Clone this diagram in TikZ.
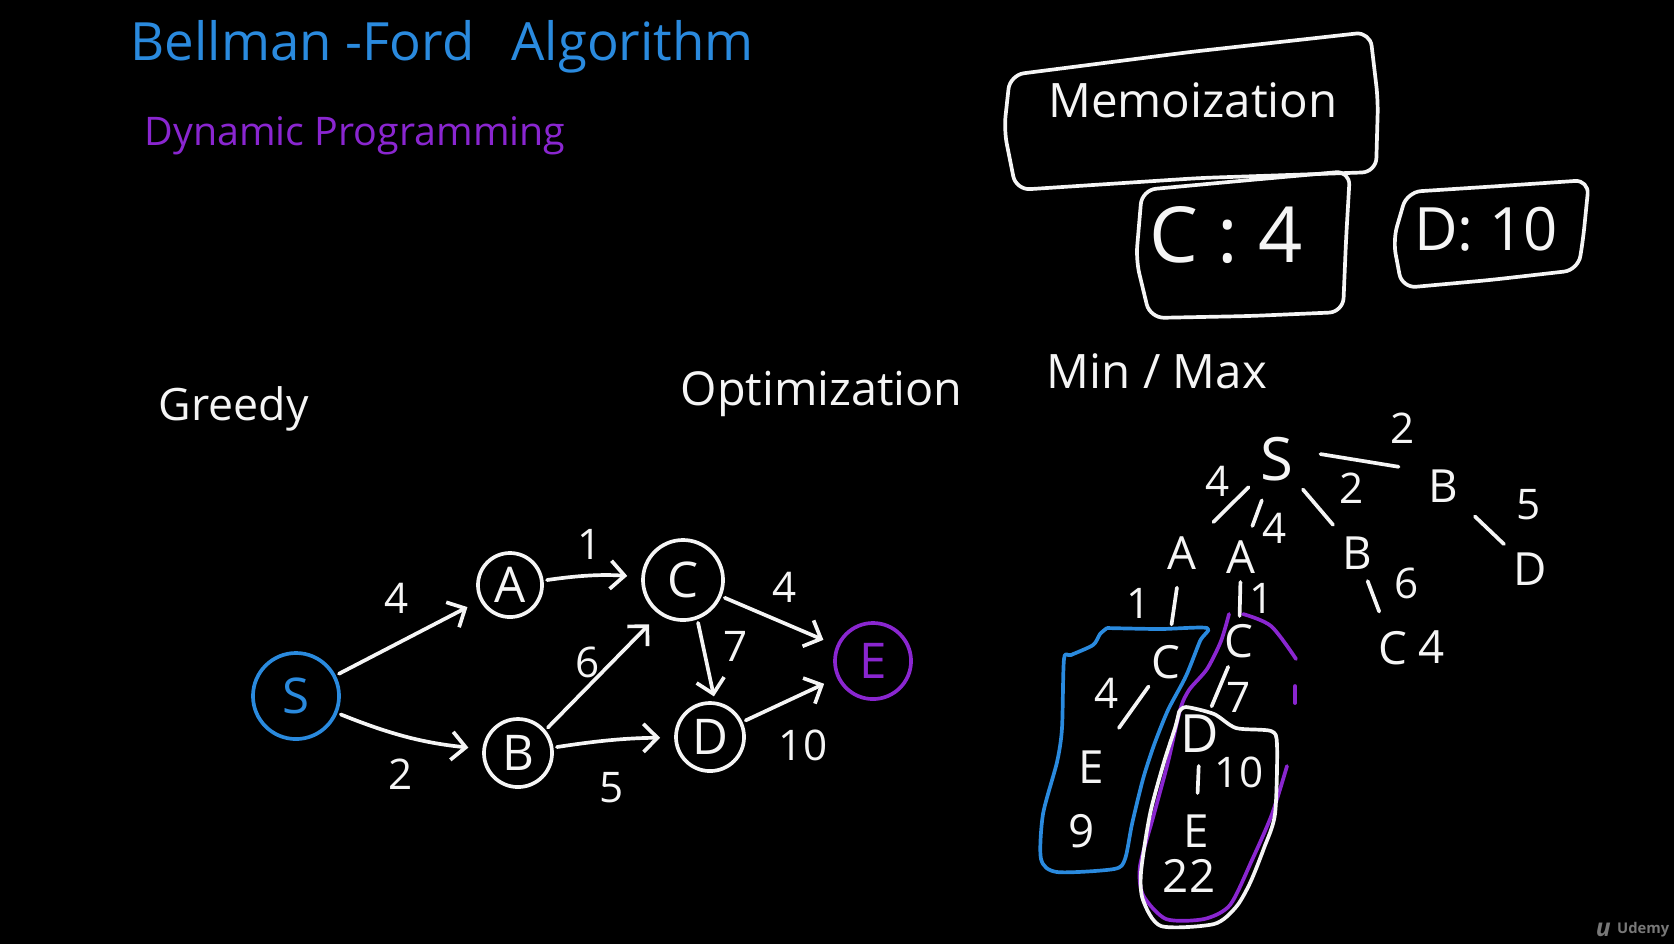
\documentclass[tikz,border=0pt]{standalone}
\usepackage{fontspec}
\setmainfont{Open Sans}
\usetikzlibrary{arrows.meta,calc}
\definecolor{penblue}{RGB}{42,138,222}
\definecolor{penpurple}{RGB}{138,38,208}
\definecolor{penwhite}{RGB}{245,245,245}
\definecolor{logogray}{RGB}{120,120,120}
\begin{document}
\begin{tikzpicture}[x=0.01cm,y=-0.01cm, line cap=round, line join=round,
  ink/.style={draw=penwhite, line width=1.05pt},
  lbl/.style={text=penwhite, inner sep=0pt, font=\fontsize{#1}{#1}\selectfont},
  lbl/.default=12,
  gnode/.style={circle, draw=penwhite, line width=1.05pt, inner sep=0pt, minimum size=#1, text=penwhite, font=\fontsize{14}{14}\selectfont},
  arr/.style={draw=penwhite, line width=1.05pt, -{Straight Barb[length=4pt,width=8pt]}, shorten >=4pt, shorten <=1pt}]
\fill[black] (0,0) rectangle (1674,944);
\useasboundingbox (0,0) rectangle (1674,944);

% headings
\node[lbl=15, text=penblue, anchor=base west] (title) at (130,60) {Bellman -Ford\hspace{0.7em}Algorithm};
\node[lbl=11.2, text=penpurple, anchor=base west] (dp) at (144,145) {Dynamic Programming};
\node[lbl=12.7, anchor=base west] (greedy) at (158,420) {Greedy};
\node[lbl=13.3, anchor=base west] (opt) at (680,405) {Optimization};
\node[lbl=13.5, anchor=base west] (minmax) at (1046,388) {Min / Max};

% memo boxes
\draw[ink, rounded corners=4pt] (1010,75) -- (1190,52) -- (1370,32) -- (1378,100) -- (1376,172) -- (1200,178) -- (1016,190) -- (1004,130) -- cycle;
\node[lbl=13.5, anchor=base] (memo) at (1193,117) {Memoization};
\draw[ink, rounded corners=4pt] (1142,190) -- (1250,180) -- (1350,171) -- (1346,240) -- (1343,312) -- (1250,316) -- (1150,318) -- (1136,260) -- cycle;
\node[lbl=22, anchor=base] (memoC) at (1226,262) {C : 4};
\draw[ink, rounded corners=4pt] (1407,192) -- (1500,186) -- (1589,180) -- (1583,240) -- (1578,270) -- (1490,280) -- (1402,288) -- (1393,240) -- cycle;
\node[lbl=17, anchor=base] (memoD) at (1486,250) {D: 10};

% graph
\node[gnode=0.86cm, draw=penblue, text=penblue] (S) at (296,696) {S};
\node[gnode=0.64cm] (A) at (510,585) {A};
\node[gnode=0.80cm] (C) at (683,580) {C};
\node[gnode=0.68cm] (B) at (518,753) {B};
\node[gnode=0.68cm] (D) at (710,737) {D};
\node[gnode=0.76cm, draw=penpurple, text=penpurple] (E) at (873,661) {E};

\draw[arr] (S) -- (A);
\draw[arr] (S) to[bend right=8] (B);
\draw[arr] (A) to[bend left=6] (C);
\draw[arr] (B.40) -- (C.235);
\draw[arr] (B) to[bend left=4] (D);
\draw[arr, shorten >=1.5pt] (C.290) -- (D.82);
\draw[arr] (C) -- (E);
\draw[arr] (D) -- (E);

\node[lbl=12] (wSA) at (397,598) {4};
\node[lbl=12] (wSB) at (401,774) {2};
\node[lbl=12] (wAC) at (590,544) {1};
\node[lbl=12] (wBC) at (588,662) {6};
\node[lbl=12] (wCD) at (736,646) {7};
\node[lbl=12] (wCE) at (785,587) {4};
\node[lbl=12] (wBD) at (612,788) {5};
\node[lbl=12] (wDE) at (803,745) {10};

% tree
\node[lbl=17] (tS) at (1277,459) {S};
\node[lbl=12] (t2a) at (1403,428) {2};
\node[lbl=13] (tB1) at (1443,486) {B};
\node[lbl=12] (t5) at (1529,505) {5};
\node[lbl=13] (tD1) at (1530,569) {D};
\node[lbl=12] (t4a) at (1218,481) {4};
\node[lbl=12] (t4b) at (1275,528) {4};
\node[lbl=12] (t2b) at (1352,488) {2};
\node[lbl=13] (tA1) at (1182,553) {A};
\node[lbl=13] (tA2) at (1241,557) {A};
\node[lbl=13] (tB2) at (1357,553) {B};
\node[lbl=12] (t1a) at (1139,603) {1};
\node[lbl=12] (t1b) at (1262,598) {1};
\node[lbl=12] (t6) at (1407,583) {6};
\node[lbl=13] (tC4) at (1393,648) {C};
\node[lbl=13] (tC4v) at (1432,647) {4};

\node[lbl=13] (bC) at (1166,662) {C};
\node[lbl=12] (b4) at (1107,693) {4};
\node[lbl=13] (bE) at (1091,767) {E};
\node[lbl=13] (b9) at (1082,831) {9};

\node[lbl=13] (pC) at (1239,641) {C};
\node[lbl=12] (p7) at (1239,697) {7};
\node[lbl=15] (pD) at (1200,734) {D};
\node[lbl=12] (p10) at (1239,772) {10};
\node[lbl=13] (pE) at (1196,831) {E};
\node[lbl=13] (p22) at (1189,876) {22};

\draw[ink, shorten <=4.0mm, shorten >=4.4mm] (tS.center) -- (tA1.center);
\draw[ink, shorten <=4.4mm, shorten >=3.3mm] (tS.center) -- (tA2.center);
\draw[ink, shorten <=4.0mm, shorten >=3.7mm] (tS.center) -- (tB2.center);
\draw[ink, shorten <=4.4mm, shorten >=4.5mm] ([yshift=1.2mm]tS.center) -- ([yshift=1.2mm]tB1.center);
\draw[ink, shorten <=4.4mm, shorten >=3.6mm] (tB1.center) -- (tD1.center);
\draw[ink, shorten <=3.5mm, shorten >=3.8mm] (tA1.center) -- (bC.center);
\draw[ink, shorten <=2.5mm, shorten >=2.5mm] (tA2.center) -- (pC.center);
\draw[ink, shorten <=3.0mm, shorten >=3.9mm] (tB2.center) -- (tC4.center);
\draw[ink, shorten <=3.0mm, shorten >=4.8mm] (bC.center) -- (bE.center);
\draw[ink, shorten <=2.8mm, shorten >=3.0mm] (pC.center) -- (pD.center);
\draw[ink, shorten <=3.2mm, shorten >=3.8mm] (pD.center) -- (pE.center);

% highlighted regions
\draw[draw=penblue, line width=1.05pt] plot[smooth, tension=0.45] coordinates {(1107,628) (1160,629) (1207,628) (1200,641) (1186,676) (1168,710) (1154,745) (1143,779) (1132,824) (1125,859) (1114,869) (1057,872) (1041,859) (1043,814) (1057,762) (1062,728) (1064,659) (1071,655) (1093,645) (1100,634) (1107,628)};
\draw[draw=penpurple, line width=1.05pt] plot[smooth, tension=0.45] coordinates {(1229,614) (1221,641) (1207,669) (1189,690) (1180,710) (1168,762) (1154,814) (1140,866) (1143,895) (1166,919) (1204,919) (1230,905) (1252,860) (1272,814) (1287,766)};
\draw[draw=penpurple, line width=1.05pt] plot[smooth, tension=0.5] coordinates {(1243,614) (1271,626) (1296,659)};
\draw[draw=penpurple, line width=1.05pt] (1295,686) -- (1295,703);
\draw[ink] plot[smooth, tension=0.45] coordinates {(1179,712) (1186,707) (1214,714) (1236,728) (1271,731) (1277,745) (1275,814) (1264,848) (1250,883) (1236,907) (1214,924) (1161,926) (1143,900) (1141,872) (1150,814) (1164,762) (1175,728) (1179,712)};

% watermark
\node[text=logogray, inner sep=0pt, font=\fontsize{4.2}{4.2}\selectfont\bfseries, anchor=east] (udemy) at (1670,930) {Udemy};
\node[text=logogray, inner sep=0pt, font=\fontsize{7}{7}\selectfont\bfseries\itshape, anchor=east] (ulogo) at ([xshift=-0.5mm]udemy.west) {u};
\end{tikzpicture}
\end{document}
